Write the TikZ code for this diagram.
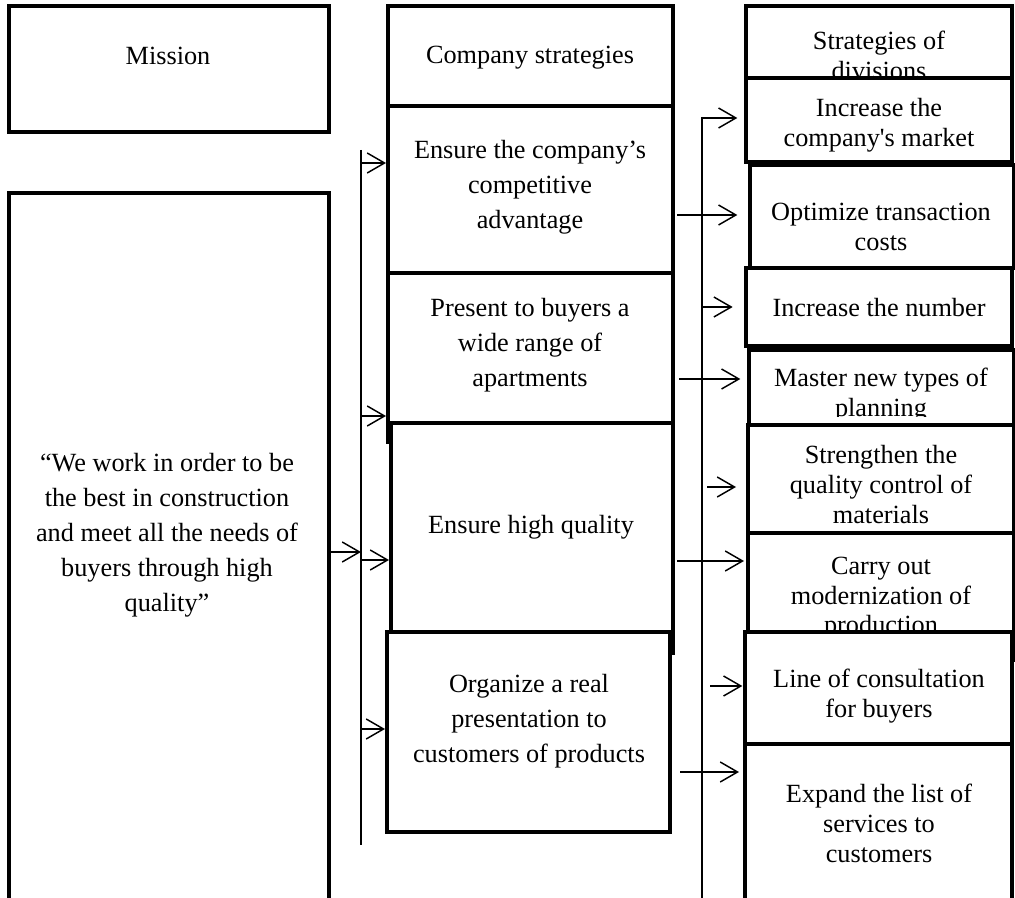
\documentclass[tikz,border=0pt]{standalone}
\usepackage{fontspec}
\setmainfont{Liberation Serif}
\usetikzlibrary{arrows.meta}
\newcommand\mkbox[5]{\node[box,minimum width={(#4-#2)*0.75pt},minimum height={(#5-#3)*0.75pt}] (#1) at ({(#2+#4)/2},{(#3+#5)/2}) {};}
\tikzset{
  box/.style={rectangle,draw,line width=3pt,fill=white,inner sep=0pt},
  txt/.style={align=center,inner sep=0pt,font=\fontsize{19.7pt}{26.25pt}\selectfont},
  rtxt/.style={align=center,inner sep=0pt,font=\fontsize{19.7pt}{22.5pt}\selectfont},
  conn/.style={line width=1.1pt},
  arr/.style={line width=1.1pt,-{Straight Barb[length=13pt,width=15pt,line width=1.1pt]}}
}
\begin{document}
\begin{tikzpicture}[x=0.75pt,y=-0.75pt]
\path[use as bounding box] (0,0) rectangle (1015,898);
\clip (0,0) rectangle (1015,898);
\fill[white] (0,0) rectangle (1015,898);
% left column
\mkbox{mission}{9}{6}{329}{132}
\node[txt] (tmission) at (168,58) {\strut Mission};
\mkbox{mtext}{9}{193}{329}{910}
\node[txt] (tmtext) at (167,535) {\strut “We work in order to be\\\strut the best in construction\\\strut and meet all the needs of\\\strut buyers through high\\\strut quality”};
% middle column
\mkbox{cs}{388}{6}{673}{106}
\node[txt] (tcs) at (530,57) {\strut Company strategies};
\mkbox{c1}{388}{106}{673}{273}
\node[txt] (tc1) at (530,187) {\strut Ensure the company’s\\\strut competitive\\\strut advantage};
\mkbox{c2}{388}{273}{673}{442}
\node[txt] (tc2) at (530,345) {\strut Present to buyers a\\\strut wide range of\\\strut apartments};
\mkbox{c3}{391}{423}{673}{653}
\node[txt] (tc3) at (531,527) {\strut Ensure high quality};
\mkbox{c4}{387}{632}{670}{832}
\node[txt] (tc4) at (529,720) {\strut Organize a real\\\strut presentation to\\\strut customers of products};
% right column
\mkbox{r0}{746}{6}{1012}{78}
\begin{scope}
\clip (740,0) rectangle (1015,76);
\node[rtxt] (tr0) at (879,59) {\strut Strategies of\\\strut divisions};
\end{scope}
\mkbox{r1}{746}{78}{1012}{162}
\node[rtxt] (tr1) at (879,126) {\strut Increase the\\\strut company\textquotesingle s market};
\mkbox{r2}{750}{165}{1014}{268}
\node[rtxt] (tr2) at (881,230) {\strut Optimize transaction\\\strut costs};
\mkbox{r3}{746}{268}{1012}{346}
\node[rtxt] (tr3) at (879,311) {\strut Increase the number};
\mkbox{r4}{749}{350}{1014}{425}
\begin{scope}
\clip (740,340) rectangle (1015,417);
\node[rtxt] (tr4) at (881,396) {\strut Master new types of\\\strut planning};
\end{scope}
\mkbox{r5}{748}{425}{1014}{533}
\node[rtxt] (tr5) at (881,488) {\strut Strengthen the\\\strut quality control of\\\strut materials};
\mkbox{r6}{748}{533}{1014}{660}
\node[rtxt] (tr6) at (881,598) {\strut Carry out\\\strut modernization of\\\strut production};
\mkbox{r7}{745}{632}{1012}{744}
\node[rtxt] (tr7) at (879,696) {\strut Line of consultation\\\strut for buyers};
\mkbox{r8}{745}{744}{1012}{910}
\node[rtxt] (tr8) at (879,826) {\strut Expand the list of\\\strut services to\\\strut customers};
% bus 1
\coordinate (b1top) at (361,150);
\coordinate (b1bot) at (361,845);
\coordinate (b1m) at (361,552);
\coordinate (b1a) at (361,163);
\coordinate (b1b) at (361,416);
\coordinate (b1c) at (361,560);
\coordinate (b1d) at (361,729);
\draw[conn] (b1top) -- (b1bot);
\draw[arr] (mtext.east |- b1m) -- (b1m);
\draw[arr] (b1a) -- (b1a -| c1.west);
\draw[arr] (b1b) -- (b1b -| c2.west);
\draw[arr] (b1c) -- (b1c -| c3.west);
\draw[arr] (b1d) -- (b1d -| c4.west);
% bus 2
\coordinate (b2top) at (702,117);
\coordinate (b2bot) at (702,905);
\coordinate (b2a) at (702,118);
\coordinate (b2b) at (702,307);
\coordinate (b2c) at (707,487);
\coordinate (b2d) at (710,686);
\draw[conn] (b2top) -- (b2bot);
\draw[arr,shorten >=5pt] (b2a) -- (b2a -| r1.west);
\draw[arr,shorten >=8.5pt] (b2b) -- (b2b -| r3.west);
\draw[arr,shorten >=7.5pt] (b2c) -- (b2c -| r5.west);
\draw[arr,shorten >=0.5pt] (b2d) -- (b2d -| r7.west);
% from company strategies to divisions
\coordinate (k1) at (677,215);
\coordinate (k2) at (679,379);
\coordinate (k3) at (677,561);
\coordinate (k4) at (680,772);
\draw[arr,shorten >=8pt] (k1) -- (k1 -| r2.west);
\draw[arr,shorten >=5pt] (k2) -- (k2 -| r4.west);
\draw[arr,shorten >=1.5pt] (k3) -- (k3 -| r6.west);
\draw[arr,shorten >=3pt] (k4) -- (k4 -| r8.west);
\end{tikzpicture}
\end{document}
